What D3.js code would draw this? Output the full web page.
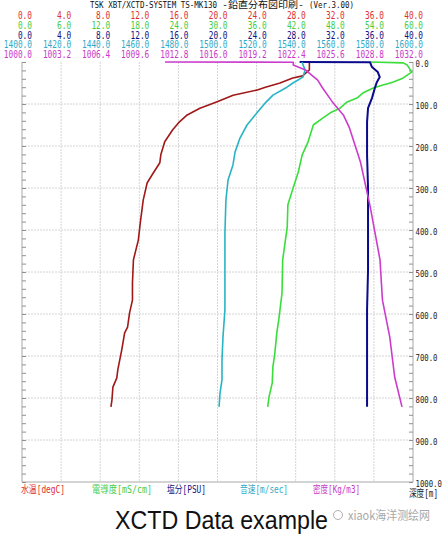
<!DOCTYPE html>
<html>
<head>
<meta charset="utf-8">
<script src="https://cdn.jsdelivr.net/npm/d3@7"></script>
<style>
  body { margin: 0; background: #fff; }
  svg { display: block; }
</style>
</head>
<body>
<svg id="chart" width="444" height="534"></svg>
<script>
// depth [m] for each profile point
var tempDepth = [0, 19, 33, 38, 50, 60, 67, 79, 95, 110, 126, 145, 162, 190, 221, 240, 269, 288, 329, 383, 424, 471, 526, 567, 598, 631, 645, 686, 733, 752, 774, 805, 821];
var tempValue = [29.4, 29.4, 28.7, 27.7, 26.4, 24.9, 24.0, 21.6, 19.9, 18.2, 16.9, 16.0, 15.4, 14.6, 14.2, 14.1, 13.3, 12.8, 12.4, 12.1, 11.9, 11.4, 11.3, 11.3, 11.0, 10.8, 10.5, 10.2, 9.8, 9.7, 9.3, 9.2, 9.1];

var condDepth = [0, 2, 7, 24, 38, 48, 55, 62, 74, 86, 95, 110, 121, 133, 150, 190, 221, 262, 300, 340, 393, 471, 550, 614, 645, 693, 726, 764, 798, 821];
var condValue = [53.4, 58.5, 59.1, 59.8, 58.5, 56.9, 55.4, 53.9, 52.3, 51.4, 49.9, 48.8, 47.3, 46.2, 44.7, 43.9, 43.0, 42.4, 41.6, 40.8, 40.7, 40.0, 39.9, 39.4, 39.1, 38.8, 38.5, 38.4, 37.9, 37.7];

var salDepth = [0, 0.5, 12, 24, 36, 48, 62, 86, 110, 143, 221, 300, 393, 495, 590, 655, 821];
var salValue = [28.4, 35.6, 35.8, 36.4, 36.6, 36.3, 36.1, 35.8, 35.4, 35.3, 35.3, 35.4, 35.4, 35.4, 35.3, 35.3, 35.3];

var soundDepth = [0, 19, 36, 50, 60, 79, 98, 121, 150, 181, 214, 245, 281, 329, 407, 488, 590, 655, 710, 757, 788, 821];
var soundValue = [1543.2, 1544.8, 1543.7, 1538.6, 1535.5, 1528.4, 1524.3, 1520.2, 1515.1, 1511.5, 1509.0, 1507.9, 1505.4, 1504.3, 1503.8, 1503.8, 1503.8, 1502.8, 1502.3, 1502.3, 1501.3, 1500.8];

var densDepth = [0, 0.5, 7, 19, 31, 43, 62, 95, 126, 157, 238, 345, 471, 567, 655, 750, 821];
var densValue = [1011.7, 1022.2, 1022.2, 1023.2, 1023.7, 1024.2, 1024.6, 1025.4, 1026.3, 1026.8, 1027.7, 1028.5, 1029.3, 1029.5, 1030.1, 1030.5, 1031.1];

// header tick labels, one row per scale
var tempTicks = ['0.0', '4.0', '8.0', '12.0', '16.0', '20.0', '24.0', '28.0', '32.0', '36.0', '40.0'];
var condTicks = ['0.0', '6.0', '12.0', '18.0', '24.0', '30.0', '36.0', '42.0', '48.0', '54.0', '60.0'];
var salTicks = ['0.0', '4.0', '8.0', '12.0', '16.0', '20.0', '24.0', '28.0', '32.0', '36.0', '40.0'];
var soundTicks = ['1400.0', '1420.0', '1440.0', '1460.0', '1480.0', '1500.0', '1520.0', '1540.0', '1560.0', '1580.0', '1600.0'];
var densTicks = ['1000.0', '1003.2', '1006.4', '1009.6', '1012.8', '1016.0', '1019.2', '1022.4', '1025.6', '1028.8', '1032.0'];
var depthTicks = [0, 100, 200, 300, 400, 500, 600, 700, 800, 900, 1000];

var legendNames = ['水温[degC]', '電導度[mS/cm]', '塩分[PSU]', '音速[m/sec]', '密度[Kg/m3]'];

var svg = d3.select('#chart');
var plotL = 22, plotR = 413, plotT = 62, plotB = 482;
var mono = '"DejaVu Sans Mono", "Noto Sans CJK JP", monospace';

var y = d3.scaleLinear().domain([0, 1000]).range([plotT, plotB]);
var col = d3.scaleLinear().domain([0, 10]).range([plotL, plotR]);

var series = [
	{depth: tempDepth, value: tempValue, ticks: tempTicks, dom: [0, 40], text: '#dd3030', line: '#a01818', w: 1.6},
	{depth: condDepth, value: condValue, ticks: condTicks, dom: [0, 60], text: '#44cc44', line: '#3ade3a', w: 1.6},
	{depth: salDepth, value: salValue, ticks: salTicks, dom: [0, 40], text: '#101080', line: '#0a0a8c', w: 2},
	{depth: soundDepth, value: soundValue, ticks: soundTicks, dom: [1400, 1600], text: '#30aac8', line: '#28b4c4', w: 1.6},
	{depth: densDepth, value: densValue, ticks: densTicks, dom: [1000, 1032], text: '#c838c8', line: '#cc3ccc', w: 1.6}
];
series.forEach(function(s) {
	s.x = d3.scaleLinear().domain(s.dom).range([plotL, plotR]);
});

// grid
var grid = svg.append('g').attr('stroke', '#d4d4d4').attr('stroke-width', 1).attr('stroke-dasharray', '2,1');
grid.selectAll('line.v').data(d3.range(1, 10)).join('line')
	.attr('x1', function(d) { return col(d); }).attr('x2', function(d) { return col(d); })
	.attr('y1', plotT).attr('y2', plotB);
grid.selectAll('line.h').data(depthTicks.slice(1, -1)).join('line')
	.attr('x1', plotL).attr('x2', plotR)
	.attr('y1', function(d) { return y(d); }).attr('y2', function(d) { return y(d); });

// frame: left, right, bottom
svg.append('path')
	.attr('d', 'M' + plotL + ',' + plotT + 'V' + plotB + 'H' + plotR + 'V' + plotT)
	.attr('fill', 'none').attr('stroke', '#a8a8a8');

// minor ticks every 20 m, inside on both sides
var minor = d3.range(0, 1001, 20);
svg.append('g').attr('transform', 'translate(' + plotL + ',0)')
	.call(d3.axisRight(y).tickValues(minor).tickSize(4).tickFormat(''))
	.call(function(g) { g.select('.domain').remove(); g.selectAll('line').attr('stroke', '#909090'); });
svg.append('g').attr('transform', 'translate(' + plotR + ',0)')
	.call(d3.axisLeft(y).tickValues(minor).tickSize(4).tickFormat(''))
	.call(function(g) { g.select('.domain').remove(); g.selectAll('line').attr('stroke', '#909090'); });

// depth labels
svg.append('g').selectAll('text').data(depthTicks).join('text')
	.attr('x', 415.5).attr('y', function(d) { return y(d) + 5; })
	.attr('font-family', mono).attr('font-size', 9.5).attr('fill', '#222')
	.attr('textLength', function(d) { return d.toFixed(1).length * 4.4; })
	.attr('lengthAdjust', 'spacingAndGlyphs')
	.text(function(d) { return d.toFixed(1); });

// header rows
var rowY = [15, 25, 35, 44.5, 54];
series.forEach(function(s, i) {
	svg.append('g').selectAll('text').data(s.ticks).join('text')
		.attr('x', function(d, j) { return col(j) + 10; })
		.attr('y', rowY[i] + 3.5)
		.attr('text-anchor', 'end')
		.attr('font-family', mono).attr('font-size', 10).attr('fill', s.text)
		.attr('textLength', function(d) { return d.length * 4.7; })
		.attr('lengthAdjust', 'spacingAndGlyphs')
		.text(function(d) { return d; });
});

// profiles
series.forEach(function(s) {
	var pts = s.depth.map(function(d, k) { return [d, s.value[k]]; });
	svg.append('path')
		.datum(pts)
		.attr('fill', 'none')
		.attr('stroke', s.line)
		.attr('stroke-width', s.w)
		.attr('stroke-linejoin', 'round')
		.attr('d', d3.line().x(function(p) { return s.x(p[1]); }).y(function(p) { return y(p[0]); }));
});

// title
var title = [
	{t: 'TSK XBT/XCTD-SYSTEM TS-MK130', x: 90, w: 127},
	{t: '-鉛直分布図印刷-', x: 222, w: 82},
	{t: '(Ver.3.00)', x: 309, w: 45}
];
svg.append('g').selectAll('text').data(title).join('text')
	.attr('x', function(d) { return d.x; }).attr('y', 8)
	.attr('font-family', mono).attr('font-size', 9).attr('fill', '#111')
	.attr('textLength', function(d) { return d.w; })
	.attr('lengthAdjust', 'spacingAndGlyphs')
	.text(function(d) { return d.t; });

// legend under the plot
var legendX = [21, 92, 167, 240, 313];
var legendW = [44, 60, 39, 48, 47];
svg.append('g').selectAll('text').data(legendNames).join('text')
	.attr('x', function(d, i) { return legendX[i]; }).attr('y', 492.5)
	.attr('font-family', mono).attr('font-size', 10)
	.attr('fill', function(d, i) { return series[i].text; })
	.attr('textLength', function(d, i) { return legendW[i]; })
	.attr('lengthAdjust', 'spacingAndGlyphs')
	.text(function(d) { return d; });

svg.append('text')
	.attr('x', 409).attr('y', 497)
	.attr('font-family', mono).attr('font-size', 10).attr('fill', '#222')
	.attr('textLength', 29).attr('lengthAdjust', 'spacingAndGlyphs')
	.text('深度[m]');

// caption
svg.append('text')
	.attr('x', 115).attr('y', 529)
	.attr('font-family', '"Liberation Sans", Arial, sans-serif').attr('font-size', 25).attr('fill', '#111')
	.attr('textLength', 213).attr('lengthAdjust', 'spacingAndGlyphs')
	.text('XCTD Data example');

// watermark
svg.append('circle').attr('cx', 338).attr('cy', 515).attr('r', 4.5)
	.attr('fill', 'none').attr('stroke', '#b0b0b0').attr('stroke-width', 1);
svg.append('text')
	.attr('x', 348).attr('y', 519.5)
	.attr('font-family', '"Noto Sans CJK SC", "Noto Sans", sans-serif').attr('font-size', 12).attr('fill', '#a8a8a8')
	.attr('textLength', 82).attr('lengthAdjust', 'spacingAndGlyphs')
	.text('xiaok海洋测绘网');
</script>
</body>
</html>
